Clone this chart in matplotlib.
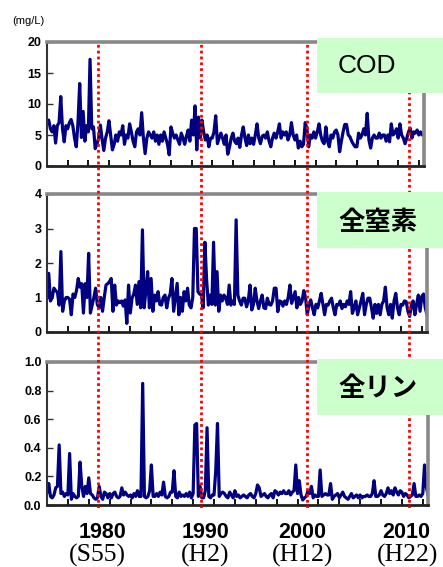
import numpy as np
import matplotlib
matplotlib.use("Agg")
import matplotlib.pyplot as plt
from matplotlib.patches import Rectangle
from matplotlib.transforms import blended_transform_factory

# ---------------- data (bi-monthly readings, start 1975.0, step 1/6 year) ----------------
start_year = 1975.0
step = 1.0 / 6.0

cod = [
    7.0, 7.4, 6.0, 5.5, 6.5, 3.7,
    6.5, 7.0, 11.2, 6.0, 3.9, 6.5,
    6.0, 7.0, 7.5, 6.5, 4.5, 3.1,
    7.0, 13.3, 4.6, 8.8, 4.0, 6.5,
    5.5, 17.2, 6.0, 6.3, 2.8, 3.5,
    4.5, 6.6, 4.3, 2.5, 4.5, 5.5,
    7.3, 5.0, 2.6, 3.5, 5.0, 4.0,
    5.5, 5.0, 6.5, 3.5, 5.0, 4.5,
    6.8, 5.5, 4.0, 3.1, 5.5, 6.0,
    5.0, 8.6, 4.5, 2.0, 4.5, 5.5,
    5.0, 4.5, 5.5, 4.0, 5.0, 3.5,
    5.0, 4.0, 5.5, 4.5, 3.5, 1.8,
    6.3, 5.3, 4.5, 5.0, 4.2, 3.5,
    5.3, 4.5, 3.5, 4.8, 5.8, 4.0,
    7.4, 5.0, 9.7, 2.6, 7.9, 4.5,
    7.4, 5.5, 4.2, 5.0, 3.1, 4.5,
    4.5, 5.5, 8.1, 3.6, 4.5, 5.3,
    4.5, 3.5, 5.0, 1.9, 3.0, 4.5,
    5.3, 4.0, 3.6, 4.5, 3.0, 5.0,
    6.3, 4.5, 3.3, 5.0, 3.6, 4.5,
    3.5, 5.0, 6.8, 4.5, 3.6, 4.8,
    5.0, 4.5, 5.5, 4.0, 3.1, 4.5,
    5.3, 4.5, 5.5, 6.8, 4.5, 5.5,
    5.0, 5.5, 4.2, 5.0, 7.0, 5.0,
    4.2, 5.0, 2.9, 4.0, 3.1, 3.5,
    7.0, 6.0, 3.1, 5.0, 4.5, 5.5,
    4.5, 5.5, 6.8, 5.0, 4.0, 3.6,
    6.3, 4.0, 3.1, 5.0, 4.5, 5.5,
    5.8, 5.0, 2.3, 4.0, 5.5, 6.7,
    6.7, 5.0, 4.7, 4.0, 3.5, 3.1,
    3.1, 5.3, 4.5, 5.0, 6.0, 5.0,
    8.5, 4.2, 2.9, 4.5, 5.0, 4.5,
    4.5, 5.3, 4.5, 5.0, 5.0, 4.0,
    5.0, 3.9, 6.8, 5.0, 5.3, 6.0,
    4.5, 6.8, 5.0, 4.5, 3.6, 4.5,
    5.5, 6.1, 4.5, 5.5, 5.3, 5.8,
    5.0, 5.5, 5.0, 5.2,
]

tn = [
    1.0, 1.7, 0.9, 1.0, 1.27, 1.2,
    1.15, 0.78, 2.33, 0.6, 0.9, 1.0,
    1.0, 0.95, 0.5, 1.1, 1.0, 1.2,
    1.55, 1.3, 1.4, 0.55, 1.4, 1.0,
    2.28, 0.55, 0.78, 1.0, 1.27, 0.8,
    0.7, 1.0, 0.6, 1.0, 1.36, 1.4,
    1.46, 1.55, 0.6, 1.36, 0.78, 0.9,
    0.85, 0.9, 0.75, 0.93, 0.25, 1.36,
    0.55, 0.98, 1.1, 1.36, 0.8, 1.46,
    0.7, 2.96, 0.7, 1.2, 1.75, 0.7,
    1.55, 0.6, 1.07, 0.9, 1.17, 0.8,
    0.78, 1.0, 1.07, 0.7, 0.98, 1.1,
    1.55, 0.6, 1.0, 1.41, 0.5, 1.0,
    0.6, 1.17, 0.9, 1.27, 0.78, 0.7,
    1.0, 3.0, 3.0, 1.17, 1.1, 1.07,
    0.7, 2.6, 1.5, 0.78, 1.07, 0.8,
    2.6, 0.78, 1.75, 0.6, 1.07, 0.9,
    1.07, 0.98, 0.8, 1.36, 0.78, 0.9,
    0.8, 3.25, 1.07, 0.9, 0.78, 0.98,
    0.98, 0.73, 0.9, 1.36, 0.64, 0.8,
    1.27, 0.9, 0.68, 0.9, 1.07, 0.7,
    0.68, 0.98, 0.8, 0.78, 0.9, 1.27,
    1.27, 0.59, 0.9, 0.88, 0.75, 0.9,
    0.8, 1.0, 1.36, 0.83, 1.0, 1.17,
    0.7, 1.0, 0.8, 0.9, 1.2, 1.0,
    0.5, 0.8, 0.93, 0.7, 0.5, 0.8,
    0.7, 0.9, 1.12, 0.8, 0.5, 0.8,
    0.78, 0.9, 0.98, 0.7, 0.5, 0.8,
    0.78, 0.9, 0.68, 0.8, 0.73, 0.9,
    0.8, 1.17, 0.54, 0.7, 0.9, 0.5,
    0.7, 0.9, 1.12, 0.5, 0.8, 0.98,
    0.98, 0.7, 0.4, 0.8, 0.54, 0.8,
    0.5, 0.8, 0.9, 1.3, 0.7, 0.5,
    0.8, 0.4, 0.9, 1.12, 0.7, 0.5,
    0.8, 0.78, 0.9, 0.88, 0.6, 0.45,
    0.78, 0.9, 0.5, 0.8, 1.07, 0.6,
    1.03, 1.1, 0.7, 0.5,
]

tp = [
    0.09, 0.15, 0.06, 0.05, 0.07, 0.12,
    0.13, 0.42, 0.08, 0.09, 0.06, 0.08,
    0.07, 0.36, 0.04, 0.08, 0.06, 0.05,
    0.06, 0.30, 0.13, 0.06, 0.13, 0.08,
    0.19, 0.08, 0.07, 0.05, 0.04, 0.05,
    0.13, 0.06, 0.04, 0.09, 0.08, 0.05,
    0.08, 0.05, 0.08, 0.09, 0.06, 0.05,
    0.06, 0.12, 0.07, 0.09, 0.07, 0.06,
    0.07, 0.05, 0.08, 0.06, 0.10, 0.06,
    0.06, 0.85, 0.06, 0.05, 0.06, 0.10,
    0.28, 0.06, 0.06, 0.08, 0.06, 0.09,
    0.07, 0.16, 0.06, 0.05, 0.06, 0.09,
    0.09, 0.24, 0.06, 0.05, 0.09, 0.06,
    0.07, 0.06, 0.08, 0.06, 0.09, 0.05,
    0.08, 0.56, 0.57, 0.06, 0.13, 0.05,
    0.05, 0.10, 0.54, 0.06, 0.05, 0.07,
    0.07, 0.24, 0.57, 0.06, 0.08, 0.09,
    0.08, 0.06, 0.05, 0.09, 0.07, 0.05,
    0.10, 0.06, 0.07, 0.05, 0.06, 0.07,
    0.06, 0.05, 0.07, 0.08, 0.06, 0.05,
    0.08, 0.14, 0.12, 0.06, 0.07, 0.08,
    0.06, 0.05, 0.07, 0.08, 0.05, 0.10,
    0.09, 0.07, 0.09, 0.08, 0.10, 0.08,
    0.08, 0.10, 0.07, 0.09, 0.10, 0.28,
    0.08, 0.17, 0.07, 0.035, 0.05, 0.06,
    0.10, 0.08, 0.13, 0.05, 0.07, 0.06,
    0.06, 0.245, 0.06, 0.07, 0.08, 0.07,
    0.07, 0.15, 0.04, 0.06, 0.07, 0.08,
    0.05, 0.07, 0.09, 0.06, 0.05, 0.04,
    0.06, 0.08, 0.05, 0.06, 0.07, 0.05,
    0.07, 0.05, 0.06, 0.06, 0.07, 0.06,
    0.06, 0.08, 0.17, 0.06, 0.06, 0.07,
    0.10, 0.07, 0.06, 0.08, 0.12, 0.08,
    0.10, 0.07, 0.12, 0.09, 0.07, 0.10,
    0.09, 0.06, 0.08, 0.07, 0.05, 0.06,
    0.07, 0.15, 0.06, 0.06, 0.07, 0.06,
    0.08, 0.28, 0.13, 0.07,
]

panel_titles = ["COD", "全窒素", "全リン"]
yticks_list = [[0, 5, 10, 15, 20], [0, 1, 2, 3, 4], [0.0, 0.2, 0.4, 0.6, 0.8, 1.0]]
ytick_fmt = ["{:.0f}", "{:.0f}", "{:.1f}"]
unit_label = "(mg/L)"
decade_years = [1980, 1990, 2000, 2010]
era_labels = ["(S55)", "(H2)", "(H12)", "(H22)"]

# ---------------- layout ----------------
W, H = 443, 567
fig = plt.figure(figsize=(W / 100, H / 100), dpi=100)

def axes_rect(l, t, r, b):
    return [l / W, 1 - b / H, (r - l) / W, (b - t) / H]

panel_px = [(47, 42, 424, 166), (47, 194, 427, 332), (47, 362, 428, 505)]
box_px = [(317, 38, 443, 93), (317, 192, 443, 248), (317, 359, 443, 415)]
title_center_y = [66, 222, 389]
xmin, xmax = 1975.0, 2011.5

series = [cod, tn, tp]
axes = []
for i, vals in enumerate(series):
    ax = fig.add_axes(axes_rect(*panel_px[i]))
    t = start_year + step * np.arange(len(vals))
    ax.plot(t, vals, color="#000080", lw=2.3, solid_joinstyle="round")
    ax.set_xlim(xmin, xmax)
    yt = yticks_list[i]
    ax.set_ylim(yt[0], yt[-1])
    ax.set_yticks(yt)
    ax.set_yticklabels([ytick_fmt[i].format(v) for v in yt],
                       fontfamily="Liberation Sans", fontweight="bold", fontsize=9)
    ax.set_xticks(np.arange(1977, 2012, 2))
    ax.set_xticklabels([])
    ax.tick_params(axis="x", direction="in", length=4, width=1.3, color="black")
    ax.tick_params(axis="y", direction="in", length=4, width=1.0, color="#333333", pad=4)
    ax.spines["left"].set_color("#333333")
    ax.spines["left"].set_linewidth(1.5)
    ax.spines["bottom"].set_color("#222222")
    ax.spines["bottom"].set_linewidth(2.0)
    for s in ("top", "right"):
        ax.spines[s].set_color("#888888")
        ax.spines[s].set_linewidth(2.6)
    axes.append(ax)

# red dotted decade lines across all panels
ax_r = fig.add_axes(axes_rect(47, 42, 428, 508))
ax_r.set_xlim(xmin, xmax)
ax_r.set_ylim(0, 1)
ax_r.axis("off")
ax_r.patch.set_alpha(0)
ax_r.set_zorder(5)
line_offsets = [-0.14, -0.24, -0.1, -0.33]
for yr, off in zip(decade_years, line_offsets):
    ax_r.axvline(yr + off, color="#ff0000", lw=2.0, ls=(0, (1, 1.1)))

# overlay for green label boxes
ax_o = fig.add_axes([0, 0, 1, 1])
ax_o.set_xlim(0, W)
ax_o.set_ylim(H, 0)
ax_o.axis("off")
ax_o.patch.set_alpha(0)
ax_o.set_zorder(10)
for i, (l, t_, r, b) in enumerate(box_px):
    ax_o.add_patch(Rectangle((l, t_), r - l, b - t_, facecolor="#ccffcc", edgecolor="none"))
    if i == 0:
        ax_o.text(338, title_center_y[i], panel_titles[i], ha="left", va="center",
                  fontsize=19, fontfamily="Liberation Sans", color="black")
    else:
        ax_o.text(338, title_center_y[i], panel_titles[i], ha="left", va="center",
                  fontsize=19, fontweight="bold",
                  fontfamily=["Noto Sans CJK JP", "DejaVu Sans"], color="black")

ax_o.text(12, 21, unit_label, ha="left", va="center", fontsize=8,
          fontfamily="Liberation Sans", color="black")

# x-axis year and era labels
tr = blended_transform_factory(axes[2].transData, fig.transFigure)
year_offsets = [0.27, 0.23, -0.5, -0.6]
era_offsets = [-0.2, 0.15, -0.5, -0.45]
for yr, yo, era, eo in zip(decade_years, year_offsets, era_labels, era_offsets):
    fig.text(yr + yo, 1 - 532 / H, str(yr), transform=tr, ha="center", va="center",
             fontsize=15.5, fontweight="bold", fontfamily="Liberation Sans")
    fig.text(yr + eo, 1 - 555 / H, era, transform=tr, ha="center", va="center",
             fontsize=18.5, fontfamily="Liberation Serif")

fig.savefig("out.png", dpi=100)
